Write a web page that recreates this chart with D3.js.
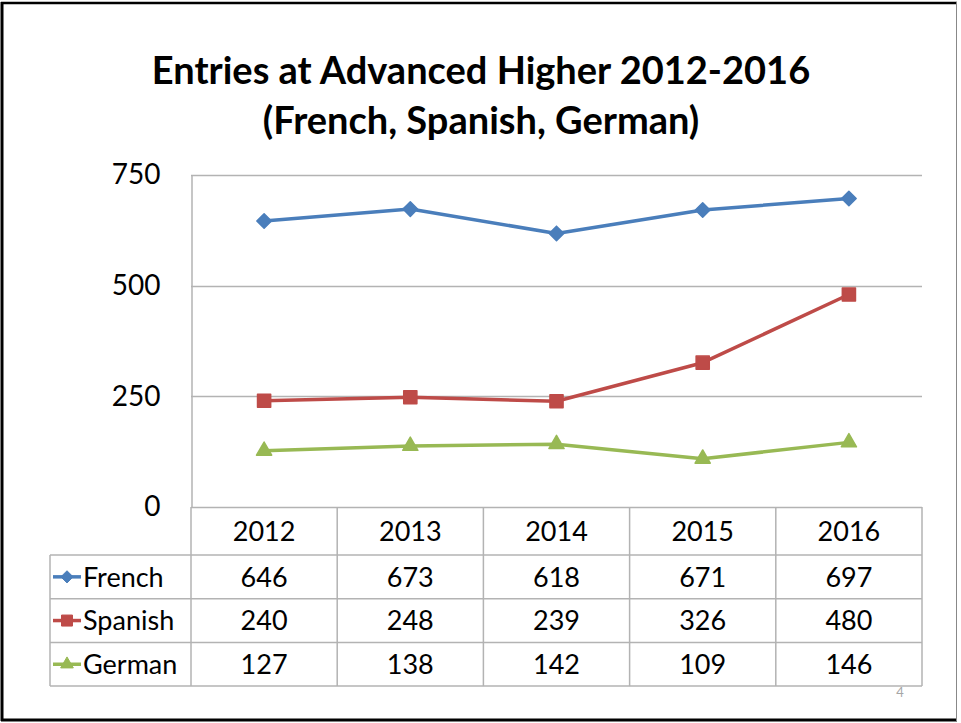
<!DOCTYPE html>
<html>
<head>
<meta charset="utf-8">
<script src="https://cdn.jsdelivr.net/npm/d3@7"></script>
<style>
  body { margin: 0; background: #fff; }
  svg { display: block; font-family: Lato, "Open Sans", sans-serif; }
</style>
</head>
<body>
<div id="chart"></div>
<script>
var years = ['2012', '2013', '2014', '2015', '2016'];
var seriesNames = ['French', 'Spanish', 'German'];
var french = [646, 673, 618, 671, 697];
var spanish = [240, 248, 239, 326, 480];
var german = [127, 138, 142, 109, 146];
var yTicks = [0, 250, 500, 750];
var titleLines = ['Entries at Advanced Higher 2012-2016', '(French, Spanish, German)'];

var series = [
    { name: seriesNames[0], values: french, color: '#4A7EBB', marker: 'diamond' },
    { name: seriesNames[1], values: spanish, color: '#BE4B48', marker: 'square' },
    { name: seriesNames[2], values: german, color: '#98B954', marker: 'triangle' }
];

var width = 961, height = 723;
var plot = { left: 191, right: 922, top: 175, bottom: 507 };
var table = { left: 50, headerBottom: 555, rowH: 43.7 };
var gridColor = '#B3B3B3';

var svg = d3.select('#chart').append('svg')
    .attr('width', width)
    .attr('height', height);

// slide frame
svg.append('line').attr('x1', 2).attr('x2', 2).attr('y1', 2).attr('y2', 721)
    .attr('stroke', '#000').attr('stroke-width', 3);
svg.append('line').attr('x1', 1).attr('x2', 957).attr('y1', 3).attr('y2', 3)
    .attr('stroke', '#000').attr('stroke-width', 2.5);
svg.append('line').attr('x1', 1).attr('x2', 957).attr('y1', 720).attr('y2', 720)
    .attr('stroke', '#000').attr('stroke-width', 3);
svg.append('line').attr('x1', 956.5).attr('x2', 956.5).attr('y1', 2).attr('y2', 721)
    .attr('stroke', '#888').attr('stroke-width', 1);

// title
svg.append('g').selectAll('text')
    .data(titleLines)
    .join('text')
    .attr('x', 481)
    .attr('y', function (d, i) { return 84 + i * 50; })
    .attr('text-anchor', 'middle')
    .attr('font-weight', 'bold')
    .attr('font-size', 38)
    .attr('fill', '#000')
    .text(function (d) { return d; });

var x = d3.scaleBand().domain(years).range([plot.left, plot.right]);
var y = d3.scaleLinear().domain([0, 750]).range([plot.bottom, plot.top]);

// gridlines
svg.append('g').selectAll('line')
    .data(yTicks.filter(function (d) { return d > 0; }))
    .join('line')
    .attr('x1', plot.left).attr('x2', plot.right)
    .attr('y1', function (d) { return Math.round(y(d)) + 0.5; })
    .attr('y2', function (d) { return Math.round(y(d)) + 0.5; })
    .attr('stroke', gridColor).attr('stroke-width', 1.5);

// y axis
var yAxis = svg.append('g')
    .attr('transform', 'translate(' + (plot.left + 0.5) + ',0)')
    .call(d3.axisLeft(y).tickValues(yTicks).tickSize(0).tickPadding(31));
yAxis.select('.domain').attr('stroke', gridColor).attr('stroke-width', 1.5);
yAxis.selectAll('text')
    .attr('font-family', 'Lato, sans-serif')
    .attr('font-size', 28)
    .attr('fill', '#000');

// data table
var rowTop = function (i) { return table.headerBottom + i * table.rowH; };
var tableBottom = rowTop(series.length);
var tg = svg.append('g').attr('stroke', gridColor).attr('stroke-width', 1.5);

tg.append('line').attr('x1', plot.left).attr('x2', plot.right)
    .attr('y1', plot.bottom + 0.5).attr('y2', plot.bottom + 0.5);
tg.selectAll('.hrow')
    .data(d3.range(series.length + 1))
    .join('line')
    .attr('class', 'hrow')
    .attr('x1', table.left).attr('x2', plot.right)
    .attr('y1', function (d) { return rowTop(d); })
    .attr('y2', function (d) { return rowTop(d); });
tg.append('line').attr('x1', table.left).attr('x2', table.left)
    .attr('y1', table.headerBottom).attr('y2', tableBottom);
tg.selectAll('.vcol')
    .data(years.concat(['end']))
    .join('line')
    .attr('class', 'vcol')
    .attr('x1', function (d) { return d === 'end' ? plot.right : x(d); })
    .attr('x2', function (d) { return d === 'end' ? plot.right : x(d); })
    .attr('y1', plot.bottom).attr('y2', tableBottom);

// header labels
svg.append('g').selectAll('text')
    .data(years)
    .join('text')
    .attr('x', function (d) { return x(d) + x.bandwidth() / 2; })
    .attr('y', (plot.bottom + table.headerBottom) / 2)
    .attr('dy', '0.36em')
    .attr('text-anchor', 'middle')
    .attr('font-size', 27)
    .text(function (d) { return d; });

// marker shapes
function markerPath(type, size) {
    var sym = type === 'diamond' ? d3.symbolDiamond2 :
        type === 'square' ? d3.symbolSquare2 : d3.symbolTriangle2;
    return d3.symbol(sym, size)();
}
var markerSize = { diamond: 135, square: 220, triangle: 165 };

// rows
var rows = svg.append('g').selectAll('g')
    .data(series)
    .join('g')
    .attr('transform', function (d, i) {
        return 'translate(0,' + (rowTop(i) + table.rowH / 2) + ')';
    });
rows.append('line')
    .attr('x1', 53).attr('x2', 81)
    .attr('stroke', function (d) { return d.color; })
    .attr('stroke-width', 3.5);
rows.append('path')
    .attr('transform', 'translate(67,0)')
    .attr('d', function (d) { return markerPath(d.marker, markerSize[d.marker] * 0.7); })
    .attr('fill', function (d) { return d.color; })
    .attr('stroke', function (d) { return d.color; })
    .attr('stroke-linejoin', 'round')
    .attr('stroke-width', 1);
rows.append('text')
    .attr('x', 83)
    .attr('dy', '0.36em')
    .attr('font-size', 27)
    .text(function (d) { return d.name; });
rows.selectAll('.val')
    .data(function (d) { return d.values; })
    .join('text')
    .attr('class', 'val')
    .attr('x', function (d, i) { return x(years[i]) + x.bandwidth() / 2; })
    .attr('dy', '0.36em')
    .attr('text-anchor', 'middle')
    .attr('font-size', 27)
    .text(function (d) { return d; });

// lines
var line = d3.line()
    .x(function (d, i) { return x(years[i]) + x.bandwidth() / 2; })
    .y(function (d) { return y(d); });

var sg = svg.append('g').selectAll('g')
    .data(series)
    .join('g');
sg.append('path')
    .attr('d', function (d) { return line(d.values); })
    .attr('fill', 'none')
    .attr('stroke', function (d) { return d.color; })
    .attr('stroke-width', 3.5)
    .attr('stroke-linejoin', 'round');
sg.selectAll('.pt')
    .data(function (d) {
        return d.values.map(function (v, i) { return { v: v, i: i, s: d }; });
    })
    .join('path')
    .attr('class', 'pt')
    .attr('transform', function (d) {
        return 'translate(' + (x(years[d.i]) + x.bandwidth() / 2) + ',' + y(d.v) + ')';
    })
    .attr('d', function (d) { return markerPath(d.s.marker, markerSize[d.s.marker]); })
    .attr('fill', function (d) { return d.s.color; })
    .attr('stroke', function (d) { return d.s.color; })
    .attr('stroke-linejoin', 'round')
    .attr('stroke-width', 1.5);

// slide number
svg.append('text')
    .attr('x', 900).attr('y', 697)
    .attr('text-anchor', 'middle')
    .attr('font-size', 13)
    .attr('fill', '#A6A6A6')
    .text('4');
</script>
</body>
</html>
